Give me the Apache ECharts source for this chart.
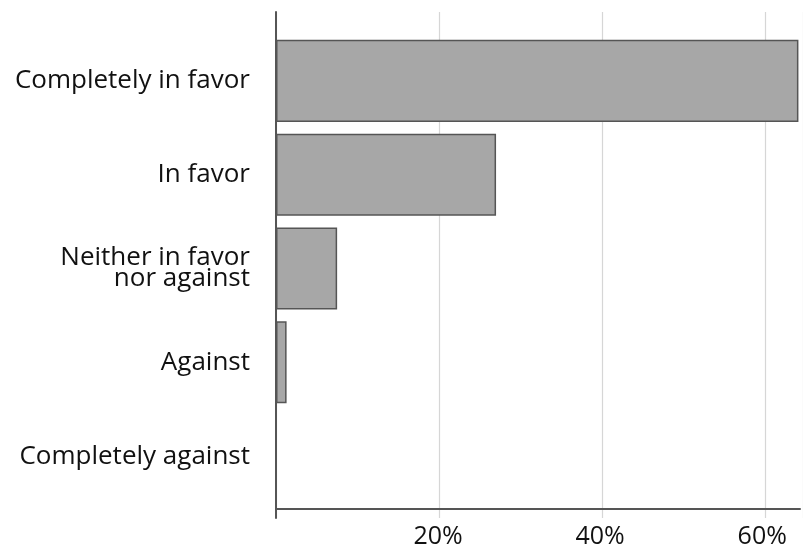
<!DOCTYPE html>
<html><head><meta charset="utf-8">
<script src="https://cdn.jsdelivr.net/npm/echarts@6/dist/echarts.min.js"></script>
<style>html,body{margin:0;padding:0;background:#fff}#c{width:803px;height:552px}</style>
</head><body><div id="c"></div>
<script>
const categories = ["Completely in favor", "In favor", "Neither in favor\nnor against", "Against", "Completely against"];
const values = [64.1, 27.0, 7.5, 1.3, 0];
const tickValues = [0, 20, 40, 60];
const X_MAX = 64.66;
const FONT = 'Open Sans';

const chart = echarts.init(document.getElementById('c'), null, {renderer: 'canvas'});
const fmt = v => (v > 0 && v % 20 === 0) ? v + '%' : '';
chart.setOption({
  animation: false,
  grid: [
    {left: 276, right: 0, top: 34, height: 469},
    {left: 276, right: 0, top: 12, height: 506},
    {left: 276, right: 0, top: 12, height: 497}
  ],
  xAxis: [
    {gridIndex: 0, type: 'value', min: 0, max: X_MAX, interval: 20, show: false},
    {gridIndex: 1, type: 'value', min: 0, max: X_MAX, interval: 20,
     axisLine: {show: false}, axisTick: {show: false}, axisLabel: {show: false},
     splitLine: {show: true, lineStyle: {color: '#d6d6d6', width: 1.2}}},
    {gridIndex: 2, type: 'value', min: 0, max: X_MAX, interval: 20,
     axisLine: {show: true, lineStyle: {color: '#555', width: 2}},
     axisTick: {show: false}, splitLine: {show: false},
     axisLabel: {formatter: fmt, color: '#111', fontFamily: FONT, fontSize: 25, margin: 15}}
  ],
  yAxis: [
    {gridIndex: 0, type: 'category', data: categories, inverse: true,
     axisLine: {show: false}, axisTick: {show: false},
     axisLabel: {color: '#111', fontFamily: FONT, fontSize: 26, lineHeight: 21, margin: 26, align: 'right'}},
    {gridIndex: 1, type: 'value', min: 0, max: 1,
     axisLine: {show: true, lineStyle: {color: '#555', width: 2}},
     axisTick: {show: false}, axisLabel: {show: false}, splitLine: {show: false}},
    {gridIndex: 2, type: 'value', min: 0, max: 1, show: false}
  ],
  series: [{
    type: 'bar', xAxisIndex: 0, yAxisIndex: 0, data: values, barWidth: '87.5%',
    itemStyle: {color: '#a7a7a7', borderColor: '#555', borderWidth: 1.5}
  }]
});
</script></body></html>
